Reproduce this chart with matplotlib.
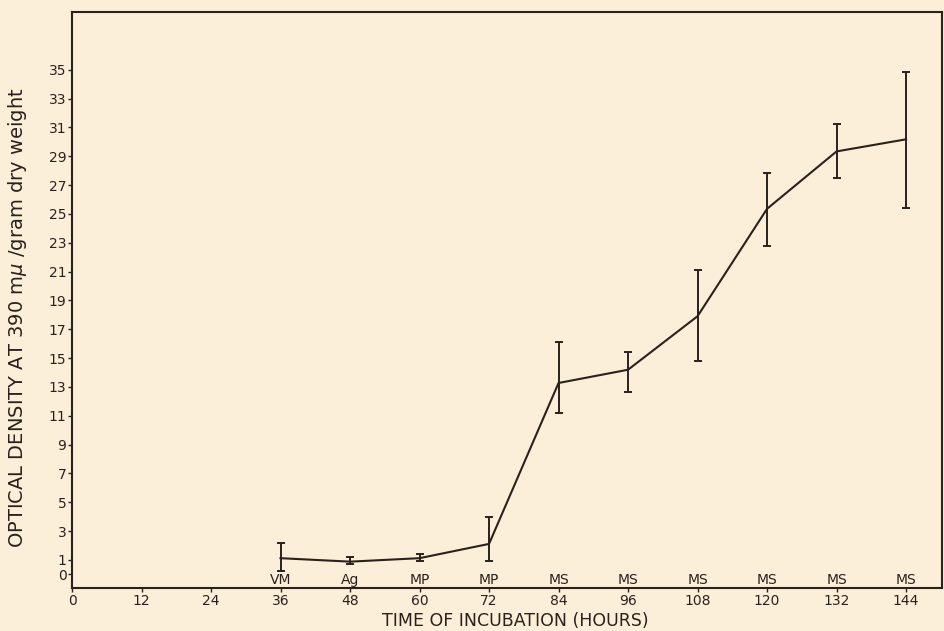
import numpy as np
import matplotlib.pyplot as plt

# ----------------------------------------------------------
# Data
# ----------------------------------------------------------

hours = [36, 48, 60, 72, 84, 96, 108, 120, 132, 144]
stages = ["VM", "Ag", "MP", "MP", "MS", "MS", "MS", "MS", "MS", "MS"]
density = [1.12, 0.88, 1.12, 2.11, 13.27, 14.19, 17.9, 25.35, 29.33, 30.17]
err_low = [0.26, 0.72, 0.95, 0.95, 11.19, 12.65, 14.82, 22.8, 27.5, 25.42]
err_high = [2.2, 1.23, 1.40, 4.0, 16.09, 15.4, 21.09, 27.8, 31.23, 34.84]

x_ticks = [0, 12, 24, 36, 48, 60, 72, 84, 96, 108, 120, 132, 144]
y_ticks = [0] + list(range(1, 36, 2))

# ----------------------------------------------------------
# Figure
# ----------------------------------------------------------

bg = "#fcefd9"
ink = "#2b211c"

fig = plt.figure(figsize=(9.45, 6.31), dpi=100, facecolor=bg)
ax = fig.add_axes([0.0762, 0.0681, 0.9206, 0.9129], facecolor=bg)

density = np.asarray(density)
yerr = [density - np.asarray(err_low), np.asarray(err_high) - density]

ax.errorbar(
    hours,
    density,
    yerr=yerr,
    color=ink,
    linewidth=1.5,
    elinewidth=1.4,
    capsize=3,
    capthick=1.4,
)

# growth stage labels sitting on the x axis
for h, s in zip(hours, stages):
    ax.text(h, -0.85, s, ha="center", va="bottom", fontsize=10, color=ink)

ax.set_xlim(0, 150.2)
ax.set_ylim(-0.95, 39)

ax.set_xticks(x_ticks)
ax.set_yticks(y_ticks)

ax.tick_params(direction="out", length=3, width=1, colors=ink, labelsize=10, pad=1)

for sp in ax.spines.values():
    sp.set_color(ink)
    sp.set_linewidth(1.5)

ax.set_xlabel("TIME OF INCUBATION (HOURS)", fontsize=12.5, color=ink)
ax.xaxis.set_label_coords(0.51, -0.058)
ax.xaxis.label.set_va("center")

ax.set_ylabel("OPTICAL DENSITY AT 390 m$\\mu$ /gram dry weight", fontsize=14, color=ink)
ax.yaxis.set_label_coords(-0.063, 0.469)
ax.yaxis.label.set_va("center")

plt.savefig("out.png", dpi=100, facecolor=bg)
